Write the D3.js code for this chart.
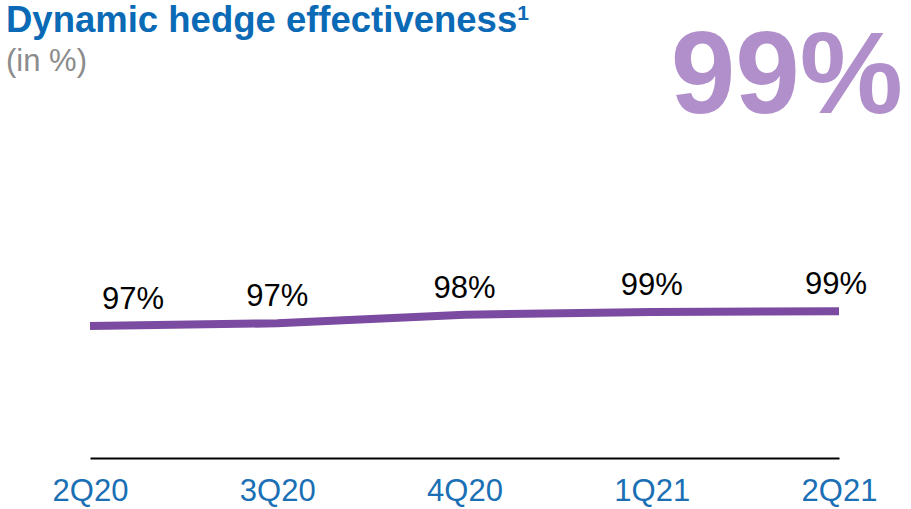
<!DOCTYPE html>
<html>
<head>
<meta charset="utf-8">
<script src="https://cdn.jsdelivr.net/npm/d3@7"></script>
<style>
body { margin: 0; background: #fff; }
text { font-family: "Liberation Sans", Arial, sans-serif; }
</style>
</head>
<body>
<svg width="911" height="509"></svg>
<script>
var quarters = ["2Q20", "3Q20", "4Q20", "1Q21", "2Q21"];
var effectiveness = [96.6, 97.0, 98.2, 98.6, 98.7];
var valueLabels = ["97%", "97%", "98%", "99%", "99%"];
var headline = "99%";

var svg = d3.select("svg"),
  margin = {left: 90, right: 72},
  width = +svg.attr("width") - margin.left - margin.right;

var x = d3.scalePoint().domain(quarters).range([margin.left, margin.left + width]),
  y = d3.scaleLinear().domain([78, 100]).range([458, 302]);

var data = quarters.map(function(q, i) {
  return {q: q, v: effectiveness[i], label: valueLabels[i]};
});

// title block
var title = svg.append("text")
  .attr("x", 6)
  .attr("y", 32)
  .attr("fill", "#0a6ab6")
  .style("font-size", "36.5px")
  .style("font-weight", "bold")
  .text("Dynamic hedge effectiveness");
title.append("tspan")
  .attr("dy", -12)
  .style("font-size", "21px")
  .text("1");

svg.append("text")
  .attr("x", 6)
  .attr("y", 71)
  .attr("fill", "#8c8c8c")
  .style("font-size", "31px")
  .text("(in %)");

svg.append("text")
  .attr("x", 903)
  .attr("y", 113)
  .attr("text-anchor", "end")
  .attr("fill", "#b08fca")
  .style("font-size", "116px")
  .style("font-weight", "bold")
  .text(headline);

// axis
var axis = svg.append("g")
  .attr("transform", "translate(0,458)")
  .call(d3.axisBottom(x).tickSize(0).tickPadding(21));
axis.select(".domain").attr("stroke", "#000").attr("stroke-width", 2);
axis.selectAll(".tick text")
  .attr("fill", "#1a6fb5")
  .style("font-size", "31px")
  .style("font-family", "Liberation Sans, Arial, sans-serif");

var line = d3.line()
  .x(function(d) { return x(d.q); })
  .y(function(d) { return y(d.v); });

svg.append("path")
  .datum(data)
  .attr("d", line)
  .attr("fill", "none")
  .attr("stroke", "#7a4ba0")
  .attr("stroke-width", 8);

svg.selectAll(".vlabel")
  .data(data)
  .enter().append("text")
  .attr("class", "vlabel")
  .attr("x", function(d, i) { return i == 0 ? x(d.q) + 43 : x(d.q) - (i == 4 ? 3 : 0); })
  .attr("y", function(d) { return y(d.v) - 17; })
  .attr("text-anchor", "middle")
  .attr("fill", "#000")
  .style("font-size", "31px")
  .text(function(d) { return d.label; });
</script>
</body>
</html>
